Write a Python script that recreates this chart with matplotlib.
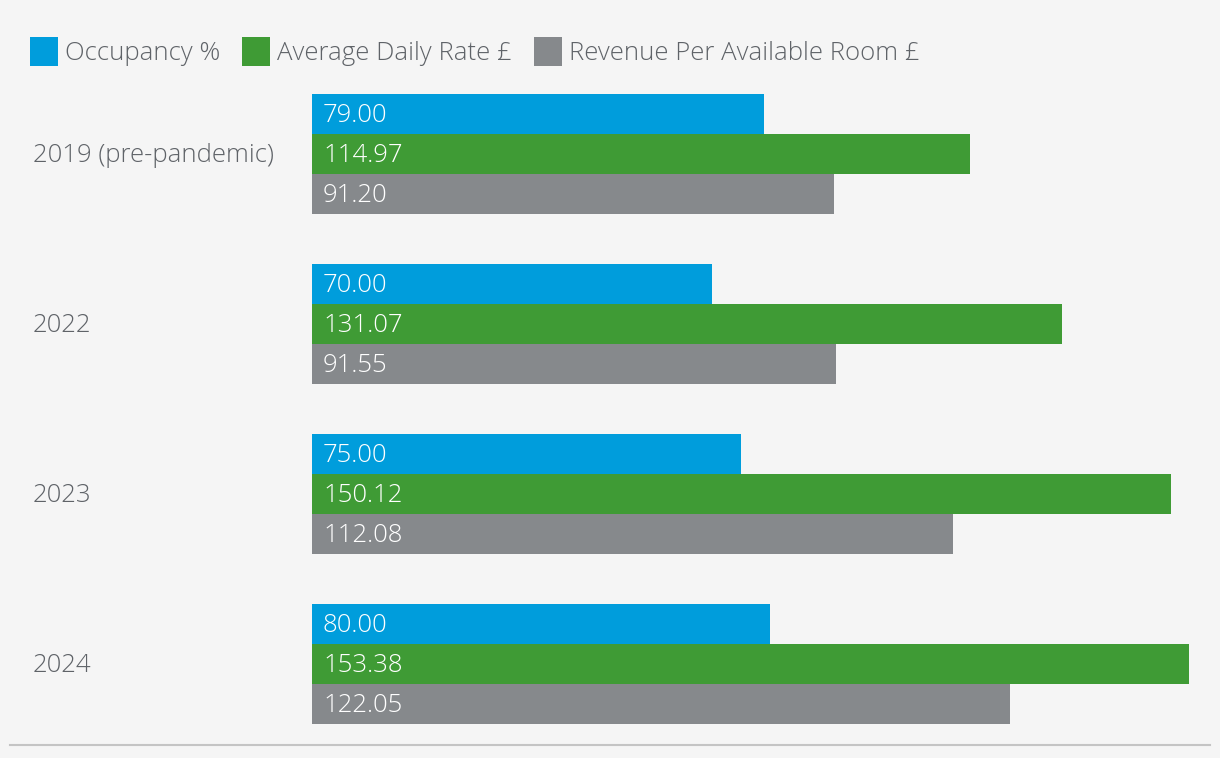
import matplotlib
matplotlib.use("Agg")
import matplotlib.pyplot as plt
from matplotlib.patches import Rectangle
import numpy as np

# dados
anos = ["2019 (pre-pandemic)", "2022", "2023", "2024"]
ocupacao = [79.00, 70.00, 75.00, 80.00]
diaria_media = [114.97, 131.07, 150.12, 153.38]
revpar = [91.20, 91.55, 112.08, 122.05]
series = ["Occupancy %", "Average Daily Rate £", "Revenue Per Available Room £"]
cores = ["#009ddc", "#3f9b35", "#86898c"]

plt.rcParams['font.family'] = ['Open Sans', 'DejaVu Sans']
fundo = "#f5f5f5"
texto = "#5f6368"
tam = 18.5

W, H = 1220, 758
fig = plt.figure(figsize=(W / 100, H / 100), dpi=100, facecolor=fundo)

# eixo começa onde as barras começam (x=312px)
x0 = 312
escala = 5.72  # px por unidade
ax = fig.add_axes([x0 / W, 0, 1 - x0 / W, 1])
ax.set_facecolor(fundo)
ax.set_xlim(0, (W - x0) / escala)

passo = 170  # px entre grupos
centro0 = 153.5
ax.set_ylim((H - centro0) / passo, -centro0 / passo)

altura = 40 / passo
desce = 2 / passo  # pequeno ajuste do texto para baixo
y = np.arange(len(anos))
valores = [ocupacao, diaria_media, revpar]
for k, (vals, cor) in enumerate(zip(valores, cores)):
    pos = y + (k - 1) * altura
    ax.barh(pos, vals, height=altura, color=cor, linewidth=0)
    for p, v in zip(pos, vals):
        ax.text(11 / escala, p + desce, f"{v:.2f}", color="white", fontsize=tam,
                va="center", ha="left", fontweight="light")

ax.axis("off")

# rótulos das categorias
for i, nome in enumerate(anos):
    ax.annotate(nome, xy=(0, i + desce), xycoords=("figure pixels", "data"),
                xytext=(33, 0), textcoords="offset pixels",
                va="center", ha="left", fontsize=tam, color=texto,
                fontweight="light")

# legenda (feita à mão)
pos_quadrado = [30, 242, 534]
for xq, cor, nome in zip(pos_quadrado, cores, series):
    fig.add_artist(Rectangle((xq / W, 1 - 66 / H), 28 / W, 29 / H,
                             transform=fig.transFigure, facecolor=cor,
                             edgecolor="none"))
    fig.text((xq + 35) / W, 1 - 53 / H, nome, color=texto, fontsize=tam,
             va="center", ha="left", fontweight="light")

# linha de baixo
fig.add_artist(plt.Line2D([10 / W, 1210 / W], [1 - 745 / H, 1 - 745 / H],
                          color="#c4c4c4", linewidth=1.5))

fig.savefig("out.png", dpi=100, facecolor=fundo)
